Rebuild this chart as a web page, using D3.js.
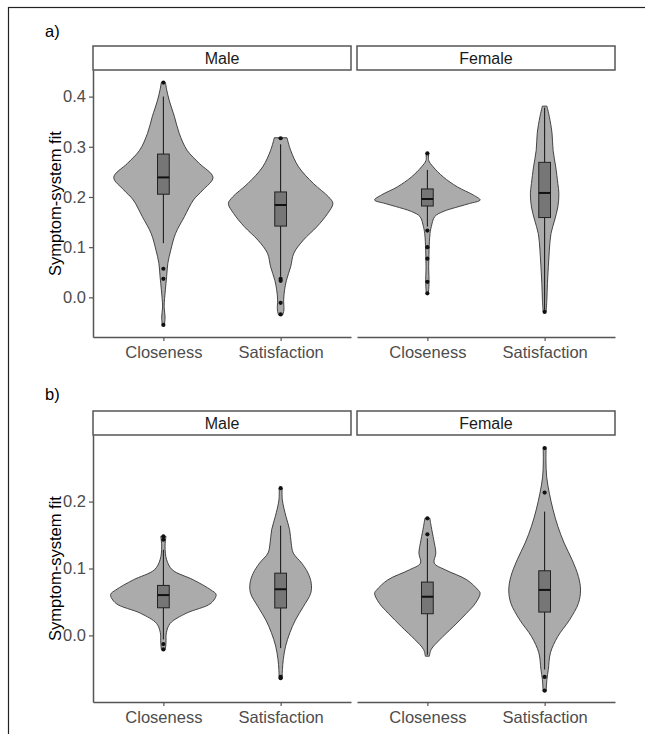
<!DOCTYPE html>
<html>
<head>
<meta charset="utf-8">
<script src="https://cdn.jsdelivr.net/npm/d3@7"></script>
<style>
  body { margin: 0; background: #fff; }
  text { font-family: "Liberation Sans", Arial, sans-serif; }
</style>
</head>
<body>
<svg id="chart" width="645" height="734"></svg>
<script>
// ---- data ----
const sexes = ["Male", "Female"];
const measures = ["Closeness", "Satisfaction"];
const ticksA = [0, 0.1, 0.2, 0.3, 0.4];
const ticksB = [0, 0.1, 0.2];

// violin outlines: [fit value, relative density]
const densAMaleClose = [[0.428, 0.04], [0.415, 0.06], [0.393, 0.11], [0.36, 0.21], [0.327, 0.30], [0.293, 0.45], [0.267, 0.68], [0.239, 0.94], [0.214, 0.75], [0.194, 0.57], [0.161, 0.40], [0.127, 0.23], [0.094, 0.14], [0.068, 0.085], [0.041, 0.062], [0.015, 0.038], [-0.019, 0.015], [-0.039, 0.032], [-0.055, 0.02]];
const densAMaleSat = [[0.318, 0.12], [0.293, 0.19], [0.26, 0.34], [0.227, 0.62], [0.2, 0.91], [0.187, 0.99], [0.167, 0.89], [0.141, 0.69], [0.114, 0.43], [0.088, 0.25], [0.061, 0.19], [0.034, 0.11], [0.015, 0.075], [-0.005, 0.057], [-0.025, 0.062], [-0.035, 0.04]];
const densAFemaleClose = [[0.287, 0.028], [0.273, 0.025], [0.26, 0.11], [0.24, 0.30], [0.22, 0.57], [0.204, 0.87], [0.194, 1.0], [0.187, 0.80], [0.181, 0.60], [0.171, 0.30], [0.161, 0.14], [0.141, 0.075], [0.127, 0.05], [0.094, 0.032], [0.061, 0.025], [0.028, 0.032], [0.008, 0.019]];
const densAFemaleSat = [[0.381, 0.043], [0.36, 0.089], [0.327, 0.14], [0.293, 0.16], [0.26, 0.21], [0.227, 0.25], [0.207, 0.27], [0.18, 0.25], [0.154, 0.19], [0.127, 0.12], [0.094, 0.089], [0.061, 0.07], [0.028, 0.053], [-0.005, 0.042], [-0.029, 0.028]];
const densBMaleClose = [[0.148, 0.05], [0.133, 0.032], [0.113, 0.062], [0.098, 0.17], [0.083, 0.57], [0.068, 0.90], [0.061, 1.0], [0.048, 0.90], [0.033, 0.43], [0.018, 0.13], [0.004, 0.057], [-0.011, 0.05], [-0.021, 0.038]];
const densBMaleSat = [[0.22, 0.028], [0.2025, 0.032], [0.178, 0.10], [0.158, 0.17], [0.138, 0.20], [0.123, 0.24], [0.108, 0.40], [0.093, 0.52], [0.078, 0.58], [0.063, 0.57], [0.043, 0.43], [0.023, 0.28], [0.004, 0.175], [-0.016, 0.094], [-0.036, 0.05], [-0.051, 0.034], [-0.064, 0.028]];
const densBFemaleClose = [[0.175, 0.047], [0.163, 0.072], [0.143, 0.12], [0.123, 0.16], [0.108, 0.13], [0.098, 0.34], [0.083, 0.75], [0.068, 0.96], [0.063, 1.0], [0.048, 0.91], [0.033, 0.74], [0.013, 0.49], [-0.006, 0.24], [-0.021, 0.072], [-0.031, 0.038]];
const densBFemaleSat = [[0.2806, 0.028], [0.262, 0.025], [0.237, 0.038], [0.2125, 0.089], [0.1876, 0.16], [0.163, 0.25], [0.138, 0.37], [0.113, 0.52], [0.088, 0.64], [0.068, 0.68], [0.048, 0.64], [0.023, 0.47], [-0.0015, 0.25], [-0.026, 0.11], [-0.051, 0.07], [-0.066, 0.043], [-0.084, 0.028]];

// boxplots: [lower whisker, Q1, median, Q3, upper whisker]
const boxAMaleClose = [0.108, 0.2055, 0.239, 0.2855, 0.40];
const boxAMaleSat = [0.041, 0.142, 0.184, 0.21, 0.305];
const boxAFemaleClose = [0.141, 0.182, 0.196, 0.216, 0.254];
const boxAFemaleSat = [-0.025, 0.159, 0.208, 0.269, 0.378];
const boxBMaleClose = [-0.006, 0.0413, 0.0603, 0.0747, 0.128];
const boxBMaleSat = [-0.019, 0.041, 0.069, 0.093, 0.164];
const boxBFemaleClose = [-0.029, 0.0324, 0.0578, 0.0797, 0.145];
const boxBFemaleSat = [-0.051, 0.0349, 0.068, 0.0966, 0.185];

// outlier points
const outAMaleClose = [0.428, 0.057, 0.037, -0.055];
const outAMaleSat = [0.317, 0.037, 0.033, -0.011, -0.034];
const outAFemaleClose = [0.287, 0.133, 0.100, 0.077, 0.031, 0.008];
const outAFemaleSat = [-0.029];
const outBMaleClose = [0.148, 0.143, -0.013, -0.021];
const outBMaleSat = [0.22, -0.062, -0.064];
const outBFemaleClose = [0.175, 0.151];
const outBFemaleSat = [0.28, 0.2135, -0.062, -0.0825];

// ---- layout ----
const svg = d3.select("#chart");
const facetX = [[93, 351], [357, 615]];

const panels = [
  { tag: "a)", tagY: 37, stripTop: 46, top: 70, bottom: 337, domain: [-0.079, 0.453], ticks: ticksA,
    dens: [[densAMaleClose, densAMaleSat], [densAFemaleClose, densAFemaleSat]],
    box: [[boxAMaleClose, boxAMaleSat], [boxAFemaleClose, boxAFemaleSat]],
    out: [[outAMaleClose, outAMaleSat], [outAFemaleClose, outAFemaleSat]] },
  { tag: "b)", tagY: 400, stripTop: 411, top: 435, bottom: 702, domain: [-0.0995, 0.2995], ticks: ticksB,
    dens: [[densBMaleClose, densBMaleSat], [densBFemaleClose, densBFemaleSat]],
    box: [[boxBMaleClose, boxBMaleSat], [boxBFemaleClose, boxBFemaleSat]],
    out: [[outBMaleClose, outBMaleSat], [outBFemaleClose, outBFemaleSat]] }
];

// outer frame
svg.append("rect")
  .attr("x", 8.5).attr("y", 7.5)
  .attr("width", 700).attr("height", 800)
  .attr("fill", "none")
  .attr("stroke", "#222")
  .attr("stroke-width", 1.2);

panels.forEach((p) => {
  let y = d3.scaleLinear().domain(p.domain).range([p.bottom, p.top]);
  let g = svg.append("g");

  g.append("text")
    .attr("x", 45).attr("y", p.tagY)
    .attr("font-size", 16.5)
    .attr("fill", "#000")
    .text(p.tag);

  // y axis title
  g.append("text")
    .attr("transform", `translate(61,${(p.top + p.bottom) / 2}) rotate(-90)`)
    .attr("text-anchor", "middle")
    .attr("font-size", 16.5)
    .attr("fill", "#000")
    .text("Symptom-system fit");

  sexes.forEach((sex, si) => {
    let [x0, x1] = facetX[si];
    let x = d3.scalePoint().domain(measures).range([x0, x1]).padding(0.6);
    let w = d3.scaleLinear().domain([0, 1]).range([0, x.step() * 0.45]);

    // strip
    g.append("rect")
      .attr("x", x0).attr("y", p.stripTop)
      .attr("width", x1 - x0).attr("height", p.top - p.stripTop)
      .attr("fill", "#fff")
      .attr("stroke", "#555")
      .attr("stroke-width", 1.5);
    g.append("text")
      .attr("x", (x0 + x1) / 2).attr("y", p.stripTop + 17.5)
      .attr("text-anchor", "middle")
      .attr("font-size", 16)
      .attr("fill", "#1a1a1a")
      .text(sex);

    measures.forEach((m, mi) => {
      let cx = x(m);
      let dens = p.dens[si][mi];
      let area = d3.area()
        .y((d) => y(d[0]))
        .x0((d) => cx - w(d[1]))
        .x1((d) => cx + w(d[1]))
        .curve(d3.curveCatmullRom);
      g.append("path")
        .datum(dens)
        .attr("d", area)
        .attr("fill", "#ababab")
        .attr("stroke", "#333")
        .attr("stroke-width", 0.9);

      let b = p.box[si][mi];
      let bw = x.step() * 0.1;
      g.append("line")
        .attr("x1", cx).attr("x2", cx)
        .attr("y1", y(b[0])).attr("y2", y(b[4]))
        .attr("stroke", "#111")
        .attr("stroke-width", 1);
      g.append("rect")
        .attr("x", cx - bw / 2).attr("y", y(b[3]))
        .attr("width", bw).attr("height", y(b[1]) - y(b[3]))
        .attr("fill", "#767676")
        .attr("stroke", "#222")
        .attr("stroke-width", 1);
      g.append("line")
        .attr("x1", cx - bw / 2).attr("x2", cx + bw / 2)
        .attr("y1", y(b[2])).attr("y2", y(b[2]))
        .attr("stroke", "#111")
        .attr("stroke-width", 2);

      g.selectAll(null)
        .data(p.out[si][mi])
        .enter()
        .append("circle")
        .attr("cx", cx)
        .attr("cy", (d) => y(d))
        .attr("r", 2.1)
        .attr("fill", "#111");
    });

    // x axis
    let xAxis = g.append("g")
      .attr("transform", `translate(0,${p.bottom})`)
      .call(d3.axisBottom(x).tickSize(4).tickSizeOuter(0).tickPadding(5));
    xAxis.select(".domain").attr("stroke", "#555").attr("stroke-width", 1.5);
    xAxis.selectAll(".tick line").attr("stroke", "#555").attr("stroke-width", 1.2);
    xAxis.selectAll(".tick text")
      .attr("font-size", 16.5)
      .attr("font-family", "Liberation Sans, Arial, sans-serif")
      .attr("fill", "#4d4d4d");

    if (si === 0) {
      let yAxis = g.append("g")
        .attr("transform", `translate(${x0},0)`)
        .call(d3.axisLeft(y).tickValues(p.ticks).tickFormat(d3.format(".1f"))
          .tickSize(4).tickSizeOuter(0).tickPadding(3));
      yAxis.select(".domain").attr("stroke", "#555").attr("stroke-width", 1.5);
      yAxis.selectAll(".tick line").attr("stroke", "#555").attr("stroke-width", 1.2);
      yAxis.selectAll(".tick text")
        .attr("font-size", 16.5)
        .attr("font-family", "Liberation Sans, Arial, sans-serif")
        .attr("fill", "#4d4d4d");
    }
  });
});
</script>
</body>
</html>
